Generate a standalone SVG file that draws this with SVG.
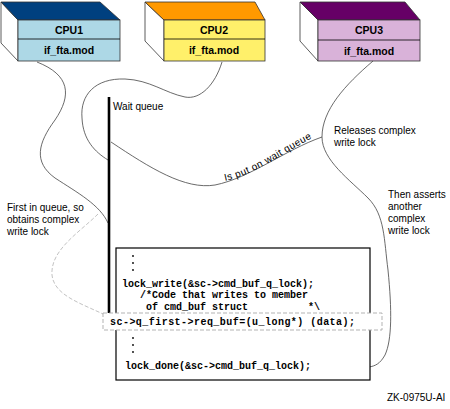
<svg xmlns="http://www.w3.org/2000/svg" width="450" height="409" viewBox="0 0 450 409">
<style>
.side{fill:#ffffff;stroke:#333;stroke-width:0.8}
.face{stroke:#333;stroke-width:0.8}
.cpu{font-family:"Liberation Sans",Arial,sans-serif;font-size:10.5px;font-weight:bold;fill:#000;text-anchor:middle}
.lbl{font-family:"Liberation Sans",Arial,sans-serif;font-size:10px;fill:#000}
.code{font-family:"Liberation Mono","Courier New",monospace;font-size:10px;font-weight:bold;fill:#000;white-space:pre}
.con{fill:none;stroke:#444;stroke-width:0.8}
.dot{fill:#000}
</style>
<defs>
<path id="tp" d="M225,181 C 255,175 285,151 324,132"/>
</defs>
<rect width="450" height="409" fill="#fff"/>

<g id="cpu1">
<polygon class="side" points="1,2 18,20 18,61 1,43"/>
<polygon class="face" fill="#00407f" points="1,2 100,2 120,20 18,20"/>
<rect class="face" fill="#add8e6" x="18" y="20" width="102" height="41"/>
<line x1="18" y1="39" x2="120" y2="39" stroke="#000" stroke-width="0.8"/>
<text class="cpu" x="69" y="34">CPU1</text>
<text class="cpu" x="69" y="54">if_fta.mod</text>
</g>

<g id="cpu2">
<polygon class="side" points="145,2 164,20 164,61 145,41"/>
<polygon class="face" fill="#ff9900" points="145,2 255,2 265,20 164,20"/>
<rect class="face" fill="#fff06a" x="164" y="20" width="101" height="41"/>
<line x1="164" y1="39" x2="265" y2="39" stroke="#000" stroke-width="0.8"/>
<text class="cpu" x="214" y="34">CPU2</text>
<text class="cpu" x="214" y="54">if_fta.mod</text>
</g>

<g id="cpu3">
<polygon class="side" points="300,2 318,20 318,61 300,41"/>
<polygon class="face" fill="#660066" points="300,2 405,2 420,20 318,20"/>
<rect class="face" fill="#d9b2d9" x="318" y="20" width="102" height="41"/>
<line x1="318" y1="40" x2="420" y2="40" stroke="#000" stroke-width="0.8"/>
<text class="cpu" x="369" y="34">CPU3</text>
<text class="cpu" x="369" y="55">if_fta.mod</text>
</g>

<g id="connectors">
<path class="con" d="M37,62 C 70,75 72,95 55,120 C 38,143 33,162 55,178 C 78,193 100,205 108,223"/>
<path class="con" d="M222,62 C 215,85 200,100 185,97 C 165,93 150,80 125,79 C 95,78 80,95 82,118 C 83,140 95,152 108,160"/>
<path class="con" d="M111,142 C 150,168 185,190 215,185 C 250,178 285,150 322,137"/>
<path class="con" d="M373,61 C 345,85 322,110 322,137 C 322,160 350,180 368,198 C 385,215 384,240 388,270 C 392,310 392,340 385,355 C 380,364 375,366 369,367"/>
<path fill="none" stroke="#bbb" stroke-width="0.9" stroke-dasharray="4,2" d="M98,214 C 80,232 50,250 52,275 C 54,295 80,303 103,314"/>
</g>

<g id="waitqueue">
<line x1="109" y1="97" x2="109" y2="320" stroke="#000" stroke-width="2.6"/>
<text class="lbl" x="113" y="110">Wait queue</text>
</g>

<g id="codebox">
<rect x="116" y="248" width="254" height="132" fill="#fff" stroke="#000" stroke-width="1.2"/>
<circle class="dot" cx="133" cy="256" r="0.9"/>
<circle class="dot" cx="133" cy="263" r="0.9"/>
<circle class="dot" cx="133" cy="270" r="0.9"/>
<text class="code" x="122" y="287">lock_write(&amp;sc-&gt;cmd_buf_q_lock);</text>
<text class="code" x="140" y="298">/*Code that writes to member</text>
<text class="code" x="146" y="310">of cmd_buf struct          *\</text>
<rect x="103" y="313" width="279" height="17" fill="#fff" stroke="#aaa" stroke-width="0.9" stroke-dasharray="4,2"/>
<text class="code" x="110" y="325" textLength="245" lengthAdjust="spacing">sc-&gt;q_first-&gt;req_buf=(u_long*) (data);</text>
<circle class="dot" cx="133" cy="338" r="0.9"/>
<circle class="dot" cx="133" cy="345" r="0.9"/>
<circle class="dot" cx="133" cy="352" r="0.9"/>
<text class="code" x="125" y="369">lock_done(&amp;sc-&gt;cmd_buf_q_lock);</text>
</g>

<g id="labels">
<text class="lbl" letter-spacing="0.4"><textPath href="#tp">Is put on wait queue</textPath></text>
<text class="lbl" x="334" y="134">Releases complex</text>
<text class="lbl" x="334" y="146">write lock</text>
<text class="lbl" x="388" y="198">Then asserts</text>
<text class="lbl" x="388" y="210">another</text>
<text class="lbl" x="388" y="222">complex</text>
<text class="lbl" x="388" y="234">write lock</text>
<text class="lbl" x="7" y="211">First in queue, so</text>
<text class="lbl" x="7" y="223">obtains complex</text>
<text class="lbl" x="7" y="235">write lock</text>
<text class="lbl" x="387" y="401" font-size="8">ZK-0975U-AI</text>
</g>
</svg>
